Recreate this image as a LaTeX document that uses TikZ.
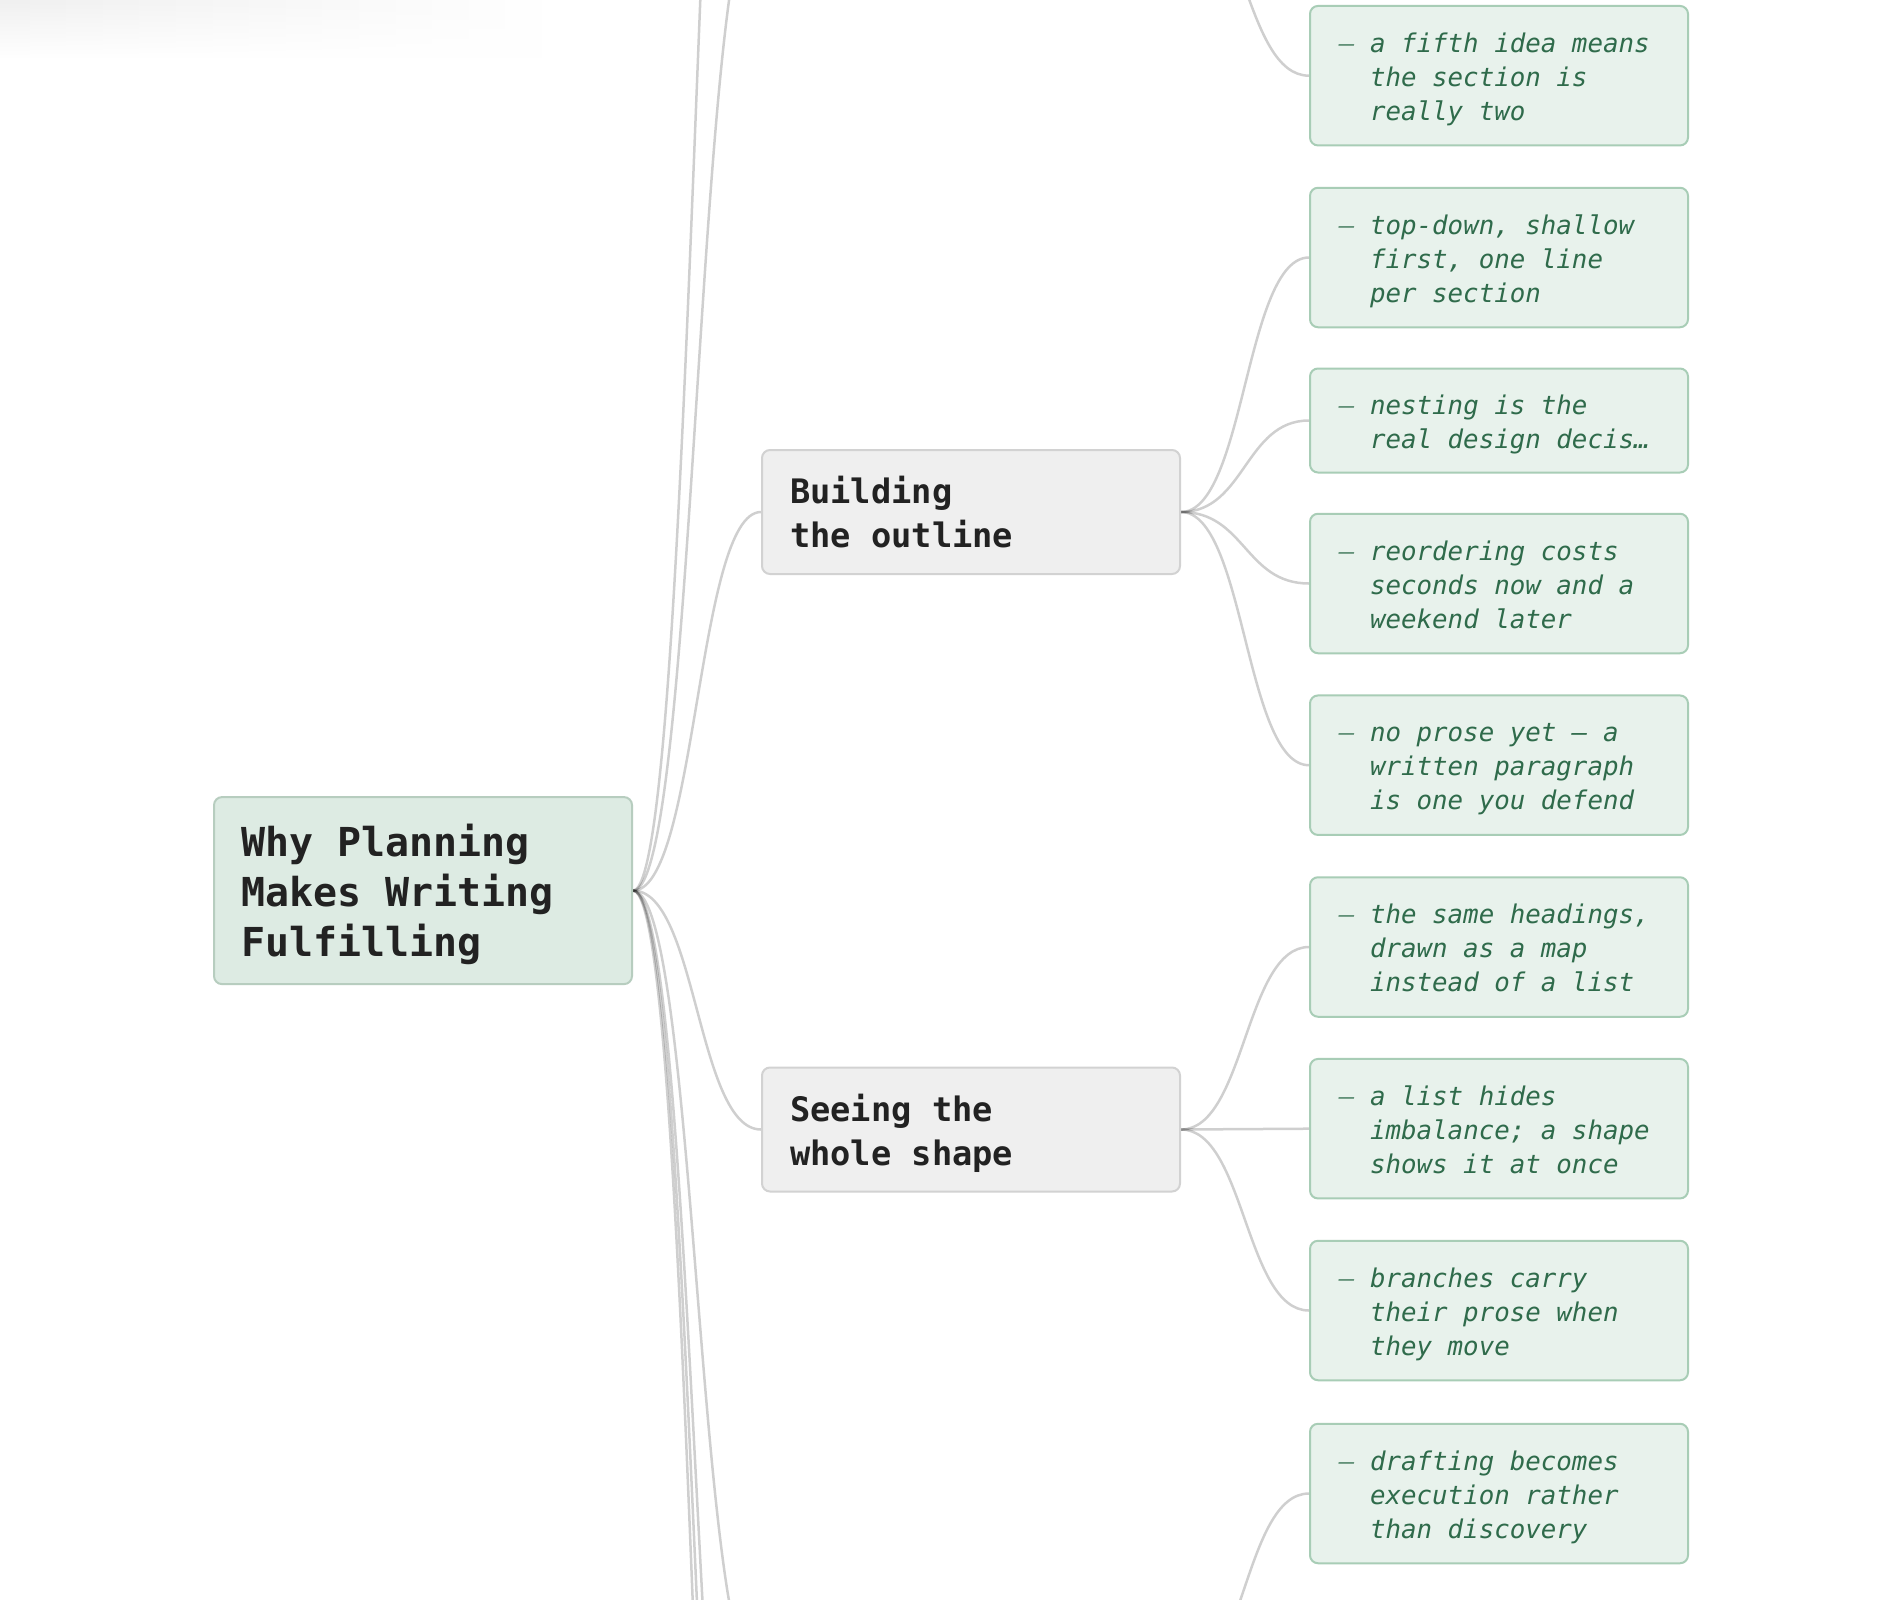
\documentclass[tikz,border=0pt]{standalone}
\usepackage{fontspec}
\newfontfamily\monof{DejaVu Sans Mono}
\usetikzlibrary{backgrounds,fadings,calc}
\tikzfading[name=fadeDown, top color=transparent!0, bottom color=transparent!100]
\definecolor{rootfill}{HTML}{DDEBE3}
\definecolor{rootdraw}{HTML}{B7CDBF}
\definecolor{brfill}{HTML}{EFEFEF}
\definecolor{brdraw}{HTML}{D2D2D2}
\definecolor{leaffill}{HTML}{E8F2EC}
\definecolor{leafdraw}{HTML}{A8CDB6}
\definecolor{leaftext}{HTML}{2F6B4B}
\definecolor{leafdash}{HTML}{5F8F75}
\definecolor{ink}{HTML}{222222}
\newlength\tshift
\newcommand\ls{\rule[\dimexpr\tshift-0.3\baselineskip\relax]{0pt}{\baselineskip}}
\newcommand\monosp{\spaceskip=0.602em\relax\xspaceskip=0.602em\relax}
\newcommand\leadin{\hphantom{\textemdash\ }}
\newcommand\dsh{{\color{leafdash}\textemdash}\ }
\begin{document}
\begin{tikzpicture}[x=1pt,y=-1pt,
  box/.style={rectangle, rounded corners=8, line width=2, anchor=west, inner ysep=0, align=left},
  rootbox/.style={box, fill=rootfill, draw=rootdraw, minimum width=418, minimum height=187,
    text width=364, inner xsep=27, text=ink,
    font=\monof\bfseries\fontsize{39.9pt}{50pt}\selectfont\setlength\tshift{5.5pt}},
  branchbox/.style={box, fill=brfill, draw=brdraw, minimum width=418, minimum height=124,
    text width=362, inner xsep=28, text=ink,
    font=\monof\bfseries\fontsize{33.7pt}{43.6pt}\selectfont\setlength\tshift{5pt}},
  leafbox/.style={box, fill=leaffill, draw=leafdraw, minimum width=378, text width=320,
    inner xsep=29, text=leaftext,
    font=\monof\itshape\fontsize{25.8pt}{34pt}\selectfont\setlength\tshift{3.8pt}},
  leafthree/.style={leafbox, minimum height=139.5},
  leaftwo/.style={leafbox, minimum height=104},
  link/.style={line width=2.5, draw=black, draw opacity=0.19,
    to path={let \p1=(\tikztostart), \p2=(\tikztotarget) in
      .. controls ({(\x1+\x2)/2},\y1) and ({(\x1+\x2)/2},\y2) .. (\tikztotarget)}}
]
\useasboundingbox (0,0) rectangle (1900,1600);

% nodes
\node[rootbox] (root) at (213,890.6) {\monosp\ls Why Planning\\\ls Makes Writing\\\ls Fulfilling};
\node[branchbox] (bo) at (761,512) {\monosp\ls Building\\\ls the outline};
\node[branchbox] (ws) at (761,1129.5) {\monosp\ls Seeing the\\\ls whole shape};

\node[leafthree] (l1) at (1309,75.7) {\monosp\ls\dsh a fifth idea means\\\ls\leadin the section is\\\ls\leadin really two};
\node[leafthree] (l2) at (1309,257.5) {\monosp\ls\dsh top-down, shallow\\\ls\leadin first, one line\\\ls\leadin per section};
\node[leaftwo] (l3) at (1309,420.5) {\monosp\ls\dsh nesting is the\\\ls\leadin real design decis…};
\node[leafthree] (l4) at (1309,583.5) {\monosp\ls\dsh reordering costs\\\ls\leadin seconds now and a\\\ls\leadin weekend later};
\node[leafthree] (l5) at (1309,765.2) {\monosp\ls\dsh no prose yet — a\\\ls\leadin written paragraph\\\ls\leadin is one you defend};
\node[leafthree] (l6) at (1309,947) {\monosp\ls\dsh the same headings,\\\ls\leadin drawn as a map\\\ls\leadin instead of a list};
\node[leafthree] (l7) at (1309,1128.7) {\monosp\ls\dsh a list hides\\\ls\leadin imbalance; a shape\\\ls\leadin shows it at once};
\node[leafthree] (l8) at (1309,1310.5) {\monosp\ls\dsh branches carry\\\ls\leadin their prose when\\\ls\leadin they move};
\node[leafthree] (l9) at (1309,1493.5) {\monosp\ls\dsh drafting becomes\\\ls\leadin execution rather\\\ls\leadin than discovery};

% off-picture branch ends
\coordinate (ua) at (761,-105);
\coordinate (uae) at (1179,-105);
\coordinate (ub) at (761,-725);
\coordinate (da) at (761,1685);
\coordinate (dae) at (1179,1685);
\coordinate (db) at (761,2105);
\coordinate (dc) at (761,2315);
\coordinate (dd) at (761,2530);

\begin{scope}[on background layer]
  \fill[white] (0,0) rectangle (1900,1600);
  \clip (0,0) rectangle (1900,1600);
  \shade[left color=black!6, right color=white, path fading=fadeDown] (0,0) rectangle (560,58);
  \draw[link] (root.east) to (ub);
  \draw[link] (root.east) to (ua);
  \draw[link] (root.east) to (bo.west);
  \draw[link] (root.east) to (ws.west);
  \draw[link] (root.east) to (da);
  \draw[link] (root.east) to (db);
  \draw[link] (root.east) to (dc);
  \draw[link] (root.east) to (dd);
  \draw[link] (uae) to (l1.west);
  \draw[link] (bo.east) to (l2.west);
  \draw[link] (bo.east) to (l3.west);
  \draw[link] (bo.east) to (l4.west);
  \draw[link] (bo.east) to (l5.west);
  \draw[link] (ws.east) to (l6.west);
  \draw[link] (ws.east) to (l7.west);
  \draw[link] (ws.east) to (l8.west);
  \draw[link] (dae) to (l9.west);
\end{scope}
\end{tikzpicture}
\end{document}
